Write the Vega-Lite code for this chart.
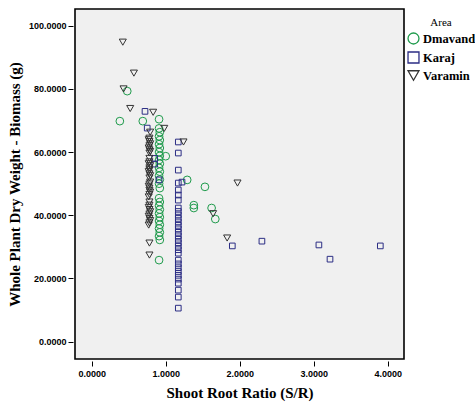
{
  "$schema": "https://vega.github.io/schema/vega-lite/v6.json",
  "width": 329,
  "height": 350,
  "autosize": {"type": "none"},
  "padding": {"left": 75, "top": 9, "right": 71, "bottom": 47},
  "background": "white",
  "config": {
    "view": {"stroke": "black", "strokeWidth": 1.6, "fill": "#f0f0f0"},
    "axis": {
      "domain": false,
      "grid": false,
      "offset": 2,
      "tickSize": 5,
      "tickColor": "black",
      "labelFont": "Liberation Sans",
      "labelFontWeight": "bold",
      "labelFontSize": 9,
      "labelColor": "black",
      "titleFont": "Liberation Serif",
      "titleFontWeight": "bold",
      "titleFontSize": 15,
      "titleColor": "black"
    },
    "legend": {
      "titleFont": "Liberation Serif",
      "titleFontWeight": "normal",
      "titleFontSize": 11,
      "titleColor": "black",
      "labelFont": "Liberation Serif",
      "labelFontWeight": "bold",
      "labelFontSize": 12.5,
      "labelColor": "black",
      "symbolSize": 120,
      "symbolStrokeWidth": 1.3,
      "symbolFillColor": "transparent"
    }
  },
  "data": {
    "values": [
      {"Area": "Varamin", "SR": 0.42, "Biomass": 94.8},
      {"Area": "Varamin", "SR": 0.57, "Biomass": 85.0},
      {"Area": "Varamin", "SR": 0.43, "Biomass": 80.0},
      {"Area": "Varamin", "SR": 0.52, "Biomass": 73.8},
      {"Area": "Varamin", "SR": 0.83, "Biomass": 72.6},
      {"Area": "Varamin", "SR": 0.98, "Biomass": 67.5},
      {"Area": "Varamin", "SR": 0.79, "Biomass": 66.3},
      {"Area": "Varamin", "SR": 1.24, "Biomass": 63.2},
      {"Area": "Varamin", "SR": 1.97, "Biomass": 50.2},
      {"Area": "Varamin", "SR": 1.64, "Biomass": 40.5},
      {"Area": "Varamin", "SR": 1.83, "Biomass": 32.8},
      {"Area": "Varamin", "SR": 0.78, "Biomass": 31.2},
      {"Area": "Varamin", "SR": 0.78, "Biomass": 27.4},
      {"Area": "Varamin", "SR": 0.78, "Biomass": 58.0},
      {"Area": "Varamin", "SR": 0.78, "Biomass": 44.2},
      {"Area": "Varamin", "SR": 0.78, "Biomass": 64.4},
      {"Area": "Varamin", "SR": 0.77, "Biomass": 63.9},
      {"Area": "Varamin", "SR": 0.78, "Biomass": 63.3},
      {"Area": "Varamin", "SR": 0.79, "Biomass": 62.6},
      {"Area": "Varamin", "SR": 0.78, "Biomass": 62.0},
      {"Area": "Varamin", "SR": 0.77, "Biomass": 61.3},
      {"Area": "Varamin", "SR": 0.78, "Biomass": 60.7},
      {"Area": "Varamin", "SR": 0.79, "Biomass": 60.2},
      {"Area": "Varamin", "SR": 0.78, "Biomass": 59.7},
      {"Area": "Varamin", "SR": 0.78, "Biomass": 56.9},
      {"Area": "Varamin", "SR": 0.77, "Biomass": 56.3},
      {"Area": "Varamin", "SR": 0.79, "Biomass": 55.7},
      {"Area": "Varamin", "SR": 0.78, "Biomass": 55.0},
      {"Area": "Varamin", "SR": 0.78, "Biomass": 54.4},
      {"Area": "Varamin", "SR": 0.77, "Biomass": 53.8},
      {"Area": "Varamin", "SR": 0.78, "Biomass": 53.1},
      {"Area": "Varamin", "SR": 0.79, "Biomass": 52.5},
      {"Area": "Varamin", "SR": 0.78, "Biomass": 51.8},
      {"Area": "Varamin", "SR": 0.79, "Biomass": 50.5},
      {"Area": "Varamin", "SR": 0.78, "Biomass": 49.9},
      {"Area": "Varamin", "SR": 0.77, "Biomass": 49.2},
      {"Area": "Varamin", "SR": 0.78, "Biomass": 48.6},
      {"Area": "Varamin", "SR": 0.78, "Biomass": 47.9},
      {"Area": "Varamin", "SR": 0.79, "Biomass": 47.3},
      {"Area": "Varamin", "SR": 0.78, "Biomass": 46.6},
      {"Area": "Varamin", "SR": 0.77, "Biomass": 45.8},
      {"Area": "Varamin", "SR": 0.78, "Biomass": 43.2},
      {"Area": "Varamin", "SR": 0.77, "Biomass": 42.5},
      {"Area": "Varamin", "SR": 0.78, "Biomass": 41.8},
      {"Area": "Varamin", "SR": 0.79, "Biomass": 41.1},
      {"Area": "Varamin", "SR": 0.78, "Biomass": 40.4},
      {"Area": "Varamin", "SR": 0.77, "Biomass": 39.7},
      {"Area": "Varamin", "SR": 0.78, "Biomass": 39.0},
      {"Area": "Varamin", "SR": 0.79, "Biomass": 38.3},
      {"Area": "Varamin", "SR": 0.78, "Biomass": 37.6},
      {"Area": "Varamin", "SR": 0.77, "Biomass": 36.9},
      {"Area": "Dmavand", "SR": 0.48, "Biomass": 79.3},
      {"Area": "Dmavand", "SR": 0.38, "Biomass": 69.8},
      {"Area": "Dmavand", "SR": 0.69, "Biomass": 69.8},
      {"Area": "Dmavand", "SR": 0.91, "Biomass": 70.4},
      {"Area": "Dmavand", "SR": 1.0, "Biomass": 58.7},
      {"Area": "Dmavand", "SR": 1.29, "Biomass": 51.2},
      {"Area": "Dmavand", "SR": 1.53, "Biomass": 49.0},
      {"Area": "Dmavand", "SR": 1.38, "Biomass": 42.3},
      {"Area": "Dmavand", "SR": 1.38, "Biomass": 43.2},
      {"Area": "Dmavand", "SR": 1.62, "Biomass": 42.3},
      {"Area": "Dmavand", "SR": 1.67, "Biomass": 38.8},
      {"Area": "Dmavand", "SR": 0.91, "Biomass": 25.8},
      {"Area": "Dmavand", "SR": 0.91, "Biomass": 67.5},
      {"Area": "Dmavand", "SR": 0.92, "Biomass": 66.3},
      {"Area": "Dmavand", "SR": 0.91, "Biomass": 65.0},
      {"Area": "Dmavand", "SR": 0.92, "Biomass": 63.8},
      {"Area": "Dmavand", "SR": 0.91, "Biomass": 62.5},
      {"Area": "Dmavand", "SR": 0.92, "Biomass": 61.3},
      {"Area": "Dmavand", "SR": 0.91, "Biomass": 60.0},
      {"Area": "Dmavand", "SR": 0.92, "Biomass": 58.8},
      {"Area": "Dmavand", "SR": 0.91, "Biomass": 57.5},
      {"Area": "Dmavand", "SR": 0.92, "Biomass": 56.3},
      {"Area": "Dmavand", "SR": 0.91, "Biomass": 55.0},
      {"Area": "Dmavand", "SR": 0.92, "Biomass": 53.8},
      {"Area": "Dmavand", "SR": 0.91, "Biomass": 52.5},
      {"Area": "Dmavand", "SR": 0.92, "Biomass": 51.3},
      {"Area": "Dmavand", "SR": 0.91, "Biomass": 50.0},
      {"Area": "Dmavand", "SR": 0.92, "Biomass": 48.6},
      {"Area": "Dmavand", "SR": 0.91, "Biomass": 45.4},
      {"Area": "Dmavand", "SR": 0.92, "Biomass": 44.2},
      {"Area": "Dmavand", "SR": 0.91, "Biomass": 43.0},
      {"Area": "Dmavand", "SR": 0.92, "Biomass": 41.8},
      {"Area": "Dmavand", "SR": 0.91, "Biomass": 40.6},
      {"Area": "Dmavand", "SR": 0.92, "Biomass": 39.4},
      {"Area": "Dmavand", "SR": 0.91, "Biomass": 38.2},
      {"Area": "Dmavand", "SR": 0.92, "Biomass": 37.0},
      {"Area": "Dmavand", "SR": 0.91, "Biomass": 35.8},
      {"Area": "Dmavand", "SR": 0.92, "Biomass": 34.6},
      {"Area": "Dmavand", "SR": 0.91, "Biomass": 33.4},
      {"Area": "Dmavand", "SR": 0.92, "Biomass": 32.2},
      {"Area": "Karaj", "SR": 0.72, "Biomass": 72.9},
      {"Area": "Karaj", "SR": 0.75, "Biomass": 67.6},
      {"Area": "Karaj", "SR": 0.85, "Biomass": 58.0},
      {"Area": "Karaj", "SR": 0.85, "Biomass": 56.2},
      {"Area": "Karaj", "SR": 0.91, "Biomass": 51.2},
      {"Area": "Karaj", "SR": 1.22, "Biomass": 50.5},
      {"Area": "Karaj", "SR": 1.9, "Biomass": 30.3},
      {"Area": "Karaj", "SR": 2.3, "Biomass": 31.8},
      {"Area": "Karaj", "SR": 3.07, "Biomass": 30.6},
      {"Area": "Karaj", "SR": 3.22, "Biomass": 26.1},
      {"Area": "Karaj", "SR": 3.9, "Biomass": 30.3},
      {"Area": "Karaj", "SR": 1.17, "Biomass": 63.2},
      {"Area": "Karaj", "SR": 1.17, "Biomass": 59.7},
      {"Area": "Karaj", "SR": 1.17, "Biomass": 54.3},
      {"Area": "Karaj", "SR": 1.17, "Biomass": 50.2},
      {"Area": "Karaj", "SR": 1.17, "Biomass": 48.0},
      {"Area": "Karaj", "SR": 1.17, "Biomass": 46.4},
      {"Area": "Karaj", "SR": 1.17, "Biomass": 44.8},
      {"Area": "Karaj", "SR": 1.17, "Biomass": 42.3},
      {"Area": "Karaj", "SR": 1.17, "Biomass": 41.2},
      {"Area": "Karaj", "SR": 1.17, "Biomass": 40.1},
      {"Area": "Karaj", "SR": 1.17, "Biomass": 39.0},
      {"Area": "Karaj", "SR": 1.17, "Biomass": 37.9},
      {"Area": "Karaj", "SR": 1.17, "Biomass": 36.8},
      {"Area": "Karaj", "SR": 1.17, "Biomass": 35.7},
      {"Area": "Karaj", "SR": 1.17, "Biomass": 34.6},
      {"Area": "Karaj", "SR": 1.17, "Biomass": 33.5},
      {"Area": "Karaj", "SR": 1.17, "Biomass": 32.4},
      {"Area": "Karaj", "SR": 1.17, "Biomass": 31.3},
      {"Area": "Karaj", "SR": 1.17, "Biomass": 30.2},
      {"Area": "Karaj", "SR": 1.17, "Biomass": 29.1},
      {"Area": "Karaj", "SR": 1.17, "Biomass": 28.0},
      {"Area": "Karaj", "SR": 1.17, "Biomass": 25.8},
      {"Area": "Karaj", "SR": 1.17, "Biomass": 24.6},
      {"Area": "Karaj", "SR": 1.17, "Biomass": 23.4},
      {"Area": "Karaj", "SR": 1.17, "Biomass": 22.2},
      {"Area": "Karaj", "SR": 1.17, "Biomass": 21.0},
      {"Area": "Karaj", "SR": 1.17, "Biomass": 19.8},
      {"Area": "Karaj", "SR": 1.17, "Biomass": 18.5},
      {"Area": "Karaj", "SR": 1.17, "Biomass": 16.3},
      {"Area": "Karaj", "SR": 1.17, "Biomass": 14.1},
      {"Area": "Karaj", "SR": 1.17, "Biomass": 10.6}
    ]
  },
  "encoding": {
    "x": {
      "field": "SR",
      "type": "quantitative",
      "title": "Shoot Root Ratio (S/R)",
      "scale": {"domain": [-0.226, 4.22], "nice": false, "zero": false},
      "axis": {"values": [0, 1, 2, 3, 4], "format": ".4f", "labelPadding": 3, "titlePadding": 7}
    },
    "y": {
      "field": "Biomass",
      "type": "quantitative",
      "title": "Whole Plant Dry Weight - Biomass (g)",
      "scale": {"domain": [-5.5, 105.3], "nice": false, "zero": false},
      "axis": {"values": [0, 20, 40, 60, 80, 100], "format": ".4f", "labelPadding": 2, "titlePadding": 6}
    },
    "color": {
      "field": "Area",
      "type": "nominal",
      "scale": {"domain": ["Dmavand", "Karaj", "Varamin"], "range": ["#1f9b4c", "#2b2d84", "#333333"]},
      "legend": {
        "orient": "none", "legendX": 332, "legendY": 8, "titleAnchor": "middle", "titlePadding": 4, "rowPadding": 2,
        "labelOffset": 3, "symbolSize": 120
      }
    },
    "shape": {
      "field": "Area",
      "type": "nominal",
      "scale": {"domain": ["Dmavand", "Karaj", "Varamin"], "range": ["circle", "square", "triangle-down"]}
    }
  },
  "layer": [
    {
      "transform": [{"filter": "datum.Area == 'Dmavand'"}],
      "mark": {"type": "point", "filled": false, "strokeWidth": 1, "opacity": 1, "size": 60}
    },
    {
      "transform": [{"filter": "datum.Area == 'Karaj'"}],
      "mark": {"type": "point", "filled": false, "strokeWidth": 1, "opacity": 1, "size": 32}
    },
    {
      "transform": [{"filter": "datum.Area == 'Varamin'"}],
      "mark": {"type": "point", "filled": false, "strokeWidth": 1, "opacity": 1, "size": 50}
    }
  ]
}
